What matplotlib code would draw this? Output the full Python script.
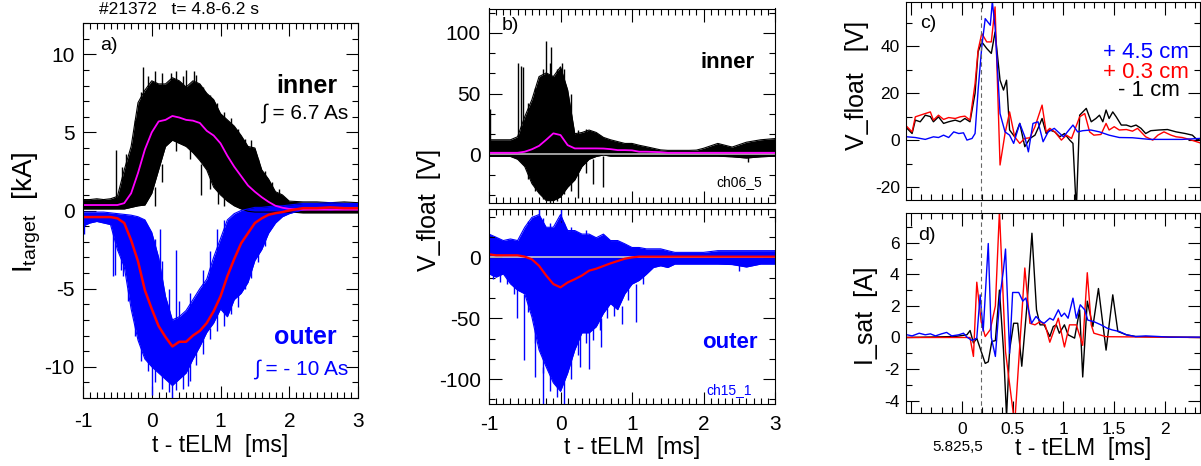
import numpy as np
import matplotlib.pyplot as plt
from matplotlib.ticker import MultipleLocator, FormatStrFormatter

plt.rcParams['font.family'] = ['Liberation Sans', 'DejaVu Sans']
plt.rcParams['mathtext.default'] = 'regular'
plt.rcParams['axes.unicode_minus'] = False

# common time base for the noisy signals (ms)
t_env = [-1.0, -0.9, -0.8, -0.7, -0.6, -0.5, -0.4, -0.3, -0.2, -0.1, 0.0, 0.1, 0.2, 0.3, 0.4, 0.5,
         0.6, 0.7, 0.8, 0.9, 1.0, 1.1, 1.2, 1.3, 1.4, 1.5, 1.6, 1.7, 1.8, 1.9, 2.0, 2.2, 2.4, 2.6, 2.8, 3.0]

# a) target current, inner (black band + magenta mean) and outer (blue band + red mean), kA
a_in_hi = [0.7, 0.7, 0.75, 0.7, 0.75, 0.9, 2.6, 4.1, 6.9, 7.7, 8.3, 8.1, 8.1, 8.5, 8.3, 7.9,
           8.3, 8.1, 7.5, 7.1, 6.2, 5.8, 5.4, 4.8, 4.1, 4.0, 2.6, 2.0, 1.2, 1.0, 0.6, 0.55, 0.55, 0.5, 0.55, 0.5]
a_in_lo = [0.1, 0.1, 0.1, 0.1, 0.1, 0.1, 0.1, 0.2, 0.3, 0.35, 1.1, 2.6, 4.1, 4.5, 4.3, 4.1,
           3.7, 3.2, 2.6, 1.5, 1.0, 0.6, 0.3, 0.1, -0.05, -0.1, -0.1, -0.1, -0.1, -0.1, -0.1, -0.15, -0.15, -0.15, -0.15, -0.15]
a_in_mean = [0.35, 0.35, 0.35, 0.35, 0.35, 0.35, 0.47, 1.1, 2.4, 3.9, 5.0, 5.7, 5.8, 6.05, 5.95, 5.8,
             5.75, 5.6, 5.1, 4.8, 4.3, 3.5, 2.8, 2.2, 1.6, 1.2, 0.85, 0.55, 0.3, 0.18, 0.1, 0.05, 0.05, 0.05, 0.05, 0.05]
a_out_hi = [-0.1, -0.1, -0.1, -0.1, -0.15, -0.2, -0.25, -0.3, -0.4, -0.6, -1.4, -3.0, -5.5, -7.0, -6.8, -6.4,
            -5.7, -5.0, -4.4, -3.0, -1.8, -0.6, -0.2, 0.0, 0.1, 0.2, 0.2, 0.25, 0.3, 0.3, 0.35, 0.45, 0.45, 0.5, 0.45, 0.45]
a_out_lo = [-1.0, -0.8, -0.7, -0.8, -0.9, -2.5, -3.6, -6.3, -8.3, -9.5, -10.0, -10.4, -10.8, -11.2, -10.8, -10.4,
            -9.5, -8.7, -7.8, -7.2, -6.3, -6.8, -5.7, -5.3, -4.6, -3.2, -2.5, -1.45, -0.8, -0.4, -0.2, 0.05, 0.1, 0.05, 0.1, 0.1]
a_out_mean = [-0.42, -0.42, -0.42, -0.42, -0.42, -0.5, -0.8, -1.9, -3.25, -5.1, -6.3, -7.4, -8.1, -8.7, -8.4, -8.4,
              -8.0, -7.7, -7.2, -6.45, -5.5, -4.2, -3.1, -2.1, -1.45, -0.8, -0.5, -0.27, -0.17, -0.1, 0.0, 0.15, 0.15, 0.2, 0.15, 0.15]
# single spikes and hairs of the noise: (t, from, to)
a_in_spikes = [(-0.52, 0.8, 3.9), (-0.43, 1.5, 2.8), (-0.37, 2.0, 3.6), (-0.13, 6.0, 9.2), (0.28, 7.0, 8.8),
               (0.5, 7.0, 9.0), (0.62, 7.5, 8.9), (0.05, 1.5, 0.3), (0.72, 3.0, 1.0), (0.97, 1.5, 0.4),
               (-0.25, 3, 5.8), (-0.15, 5, 7.6), (-0.05, 6, 8.6), (0.05, 7, 8.9), (0.15, 7, 8.8), (0.25, 7, 8.0),
               (0.35, 7, 8.9), (0.45, 7, 8.6), (0.55, 7, 8.0), (0.65, 7, 8.7), (0.75, 6.5, 7.9), (0.85, 6, 7.4),
               (0.95, 5, 6.9), (1.05, 4.5, 6.3), (1.15, 4, 5.9), (1.25, 3.5, 5.2), (1.35, 3, 4.6), (1.45, 2.5, 4.5),
               (1.55, 2, 3.3), (1.65, 1.5, 2.5), (1.75, 1.0, 1.8), (1.85, 0.8, 1.4),
               (0.15, 3, 1.8), (0.35, 4.6, 3.8), (0.55, 4.2, 3.3), (0.85, 2.5, 1.4), (1.05, 1.2, 0.3)]
a_out_spikes = [(-0.98, -0.8, -1.5), (-0.57, -0.9, -4.2), (-0.53, -1.5, -4.1), (-0.42, -3.0, -4.2),
                (0.0, -9.0, -11.8), (0.3, -10.0, -12.0), (0.52, -9.5, -11.2), (0.12, -4.0, -1.2), (0.35, -7.0, -2.5),
                (-0.45, -3, -3.8), (-0.35, -5, -5.8), (-0.25, -7, -8.0), (-0.15, -8.5, -9.6), (-0.05, -9.5, -10.3),
                (0.05, -10, -11.0), (0.15, -10, -11.4), (0.25, -10.5, -11.6), (0.35, -10.5, -11.5), (0.45, -10, -11.4),
                (0.55, -9.5, -10.9), (0.65, -9, -9.9), (0.75, -8, -9.2), (0.85, -7.5, -8.2), (0.95, -6.5, -7.7),
                (1.05, -6.0, -7.4), (1.15, -5.5, -6.6), (1.25, -5, -6.2), (1.35, -4.5, -5.0), (1.45, -3.5, -4.3),
                (1.55, -2.5, -3.3), (1.65, -1.5, -2.3),
                (0.05, -3, -1.8), (0.15, -5, -3.2), (0.25, -7, -5.0), (0.4, -7, -5.8), (0.55, -6.5, -5.3),
                (0.75, -5, -3.8), (0.85, -4, -2.6), (0.95, -3, -1.2), (1.05, -1.5, -0.6)]

# b) floating potential, V
b_in_hi = [12, 12, 12, 12, 14.5, 31, 45, 64, 67, 64, 72, 53, 17, 18, 20, 18,
           14, 12, 10.5, 9, 9, 7.5, 6.3, 5, 3.7, 3.3, 3.3, 3.3, 3.3, 3.5, 5, 9, 6, 10, 12, 13]
b_in_lo = [-1.7, -1.7, -1.7, -1.7, -4, -10, -24, -32, -38, -38, -35, -27, -21, -10, -4, -1.7,
           -0.5, -1.5, -1.5, -1.5, -1.5, -1.5, -1.5, -1.5, -1.5, -1.5, -1.5, -1.5, -1.5, -1.5, -1.5, -1.5, -2, -3, -2, -1.5]
b_in_mean = [1.3, 1.3, 1.3, 1.3, 1.3, 2.2, 4.2, 7, 12, 17.3, 15.9, 7.6, 4.9, 4.9, 4.9, 4.9,
             4.8, 4.3, 3.5, 3.5, 3.3, 2.2, 2.2, 2.0, 1.8, 1.3, 1.3, 1.3, 1.3, 1.3, 1.3, 1.3, 1.3, 1.3, 1.3, 1.3]
b_out_hi = [19, 16.4, 13.7, 15, 13.7, 24.6, 32.7, 35, 24.6, 24.6, 35, 21.9, 21.9, 19, 19, 16,
            19, 13.7, 13.7, 11, 8, 8, 6.9, 6.9, 6.9, 5.4, 4, 4, 4, 4, 4, 5.4, 5.4, 5.4, 5.4, 5.4]
b_out_lo = [-13.6, -16.3, -13.6, -21.8, -27, -30, -49, -76, -90, -103, -110, -95, -76, -62, -62, -57,
            -46, -38, -43, -30, -22, -19, -14, -8.4, -7, -8.4, -5.6, -5.6, -5.6, -5.6, -5.6, -5.6, -6, -8, -5.6, -5.6]
b_out_mean = [2.4, 1.6, 1.6, 1.6, 1.6, 0.5, -1.7, -7, -15, -22, -24.7, -20.7, -18, -15, -11, -9.4,
              -7.2, -5, -3.1, -1.2, -0.1, 0.5, 0.5, 0.5, 0.5, 0.5, 0.5, 0.5, 0.5, 0.5, 0.5, 0.5, 0.5, 0.5, 0.5, 0.5]
b_in_spikes = [(-0.98, 10, 37), (-0.59, 12, 75), (-0.55, 14, 73), (-0.52, 20, 72), (-0.2, 60, 93),
               (-0.13, 60, 88), (0.02, 60, 75), (0.24, -15, -36), (0.46, -4, -24), (0.59, -1, -27), (2.62, -2, -6),
               (-0.45, 20, 42), (-0.35, 35, 55), (-0.25, 50, 70), (-0.15, 55, 75), (-0.05, 55, 70), (0.05, 50, 70),
               (0.15, 30, 50), (0.25, 10, 20), (0.35, 10, 21), (0.45, 10, 19), (0.55, 8, 16),
               (-0.45, -10, -20), (-0.35, -20, -30), (-0.25, -30, -37), (-0.15, -30, -40), (-0.05, -30, -38),
               (0.05, -25, -33), (0.15, -20, -30), (0.35, -5, -15)]
b_out_spikes = [(-0.3, 30, 40), (0.0, 30, 40), (-0.61, -25, -50), (-0.51, -30, -84), (-0.36, -60, -98),
                (-0.24, -90, -120), (0.05, -100, -120), (0.27, -65, -90), (0.4, -60, -92), (0.56, -50, -74),
                (0.86, -40, -55), (1.05, -22, -53), (2.5, -6, -11),
                (-0.95, -10, -18), (-0.85, -10, -20), (-0.75, -15, -22), (-0.65, -20, -30), (-0.45, -35, -45),
                (-0.35, -55, -70), (-0.25, -75, -95), (-0.15, -90, -110), (-0.05, -100, -115), (0.15, -80, -100),
                (0.25, -65, -80), (0.35, -55, -70), (0.45, -50, -68), (0.55, -45, -60), (0.65, -35, -50),
                (0.75, -35, -48), (0.95, -20, -35), (1.15, -12, -22),
                (-0.45, 20, 30), (-0.25, 20, 32), (-0.15, 20, 28), (0.05, 20, 28), (0.15, 15, 25), (0.35, 12, 22)]

# c) V_float at three probe positions: (t, V)
c_blue = [(-0.54, 1.4), (-0.458, 1.1), (-0.36, 0.3), (-0.28, 1.4), (-0.23, 1.1), (-0.18, 2.1), (-0.13, 1.1),
          (-0.08, 3.5), (-0.03, 2.8), (0.016, 3.1), (0.05, 0.0), (0.1, 0.7), (0.13, 2.8), (0.16, 21.3),
          (0.196, 39.7), (0.23, 51.7), (0.28, 48.9), (0.3, 58.9), (0.327, 48.2), (0.376, 11.3), (0.425, 3.5),
          (0.47, 2.1), (0.51, -1.4), (0.57, 7.1), (0.62, 1.4), (0.655, -5.0), (0.7, 7.1), (0.75, 7.8),
          (0.8, -0.7), (0.85, 3.5), (0.91, 5.0), (1.0, 1.4), (1.094, 6.4), (1.14, 3.5), (1.19, 4.0),
          (1.27, 4.3), (1.355, 3.5), (1.45, 2.1), (1.55, 1.1), (1.68, 1.0), (1.85, 0.3), (2.0, 0.3),
          (2.17, 0.3), (2.34, 0.7)]
c_red = [(-0.54, 5.7), (-0.49, 3.5), (-0.458, 9.9), (-0.41, 10.6), (-0.36, 11.3), (-0.31, 12.0), (-0.28, 8.5),
         (-0.23, 10.6), (-0.18, 8.8), (-0.13, 9.6), (-0.065, 9.2), (-0.016, 9.9), (0.03, 10.2), (0.08, 8.5),
         (0.13, 24.0), (0.16, 38.3), (0.196, 45.4), (0.245, 41.8), (0.29, 41.8), (0.327, 56.7), (0.376, -10.6),
         (0.425, 2.8), (0.47, 12.0), (0.52, 1.4), (0.57, -1.4), (0.62, 0.7), (0.67, 1.0), (0.72, 5.7),
         (0.79, 14.9), (0.83, 3.5), (0.866, 5.0), (0.915, 3.5), (0.98, 0.0), (1.03, 2.1), (1.08, 0.7),
         (1.16, 9.9), (1.21, 11.3), (1.258, 3.5), (1.3, 2.1), (1.37, 2.4), (1.42, 7.1), (1.45, 4.3),
         (1.5, 5.7), (1.55, 4.3), (1.62, 4.5), (1.68, 3.8), (1.73, 5.0), (1.81, 1.4), (1.88, 0.0),
         (1.93, 2.1), (1.99, 3.5), (2.06, 2.1), (2.11, 1.4), (2.17, 1.1), (2.24, 0.3), (2.34, -1.1)]
c_black = [(-0.54, 5.0), (-0.49, 2.8), (-0.458, 8.5), (-0.41, 7.8), (-0.36, 10.6), (-0.31, 10.0), (-0.28, 7.8),
           (-0.23, 9.9), (-0.18, 7.1), (-0.13, 7.8), (-0.065, 8.5), (-0.016, 7.8), (0.03, 9.2), (0.08, 7.8),
           (0.13, 19.9), (0.16, 37.6), (0.196, 41.8), (0.245, 39.0), (0.29, 36.9), (0.327, 46.0), (0.376, 25.5),
           (0.41, 21.3), (0.44, 25.5), (0.47, 4.3), (0.52, 1.4), (0.57, 7.1), (0.62, -2.8), (0.67, 0.7),
           (0.72, 2.1), (0.75, 5.0), (0.79, 9.2), (0.83, 2.8), (0.866, 4.3), (0.915, 3.5), (0.964, 1.4),
           (1.01, 2.8), (1.062, 0.0), (1.094, -1.4), (1.127, -30.0), (1.16, 10.6), (1.225, 13.5), (1.274, 7.8),
           (1.32, 9.2), (1.355, 10.6), (1.388, 7.8), (1.42, 12.8), (1.45, 9.2), (1.486, 12.0), (1.52, 9.9),
           (1.57, 6.4), (1.62, 6.4), (1.666, 5.7), (1.715, 6.4), (1.764, 5.0), (1.81, 2.8), (1.86, 4.0),
           (1.94, 4.3), (2.025, 4.5), (2.11, 3.5), (2.2, 2.8), (2.27, 2.1), (2.32, 0.0), (2.34, 0.5)]

# d) I_sat at the same positions: (t, A)
d_blue = [(-0.54, 0.17), (-0.49, 0.1), (-0.42, 0.27), (-0.36, 0.17), (-0.31, 0.23), (-0.26, 0.1), (-0.2, 0.23),
          (-0.15, 0.32), (-0.1, 0.1), (-0.03, 0.17), (0.016, 0.27), (0.05, 0.02), (0.1, -0.19), (0.147, -0.04),
          (0.18, 2.7), (0.21, 0.4), (0.26, 5.95), (0.29, 0.0), (0.33, -1.2), (0.375, 2.6), (0.408, 4.2),
          (0.43, 5.6), (0.47, -1.0), (0.5, 2.85), (0.56, 2.85), (0.6, 2.3), (0.63, 2.5), (0.686, 0.9),
          (0.73, 1.33), (0.78, 1.0), (0.81, 0.9), (0.866, 1.22), (0.9, 1.1), (0.95, 1.75), (0.98, 1.33),
          (1.01, 1.54), (1.046, 1.22), (1.094, 2.49), (1.127, 1.22), (1.166, 2.07), (1.21, 1.75), (1.24, 1.1),
          (1.3, 1.0), (1.37, 0.8), (1.43, 0.59), (1.48, 0.48), (1.55, 0.38), (1.62, 0.17), (1.71, 0.06),
          (1.81, 0.1), (1.94, 0.06), (2.04, 0.02), (2.34, 0.02)]
d_red = [(-0.54, 0.0), (-0.3, 0.0), (0.08, 0.0), (0.114, -1.2), (0.147, 3.5), (0.19, 1.0), (0.23, 0.06),
         (0.28, 0.5), (0.33, 2.0), (0.37, 8.0), (0.43, -0.9), (0.52, -5.5), (0.62, 4.4), (0.67, 0.9),
         (0.72, 0.8), (0.77, 1.0), (0.82, 0.8), (0.866, -0.3), (0.95, 1.22), (1.01, -0.6), (1.06, 0.8),
         (1.127, 0.8), (1.19, -0.5), (1.235, 4.1), (1.274, 0.8), (1.3, 0.27), (1.42, 0.05), (2.34, 0.0)]
d_black = [(-0.54, 0.0), (-0.066, 0.06), (0.05, 0.17), (0.081, 0.44), (0.114, -0.35), (0.147, -0.05),
           (0.23, -1.64), (0.26, -1.54), (0.295, -0.25), (0.33, -0.2), (0.37, 3.0), (0.41, -0.8), (0.44, -5.0),
           (0.47, -0.8), (0.51, 0.9), (0.55, 0.9), (0.59, -1.82), (0.64, 1.95), (0.69, 6.6), (0.735, 1.75),
           (0.77, 0.8), (0.81, 0.8), (0.866, 0.06), (0.9, 0.69), (0.93, 0.8), (0.96, 0.27), (1.01, 0.8),
           (1.046, 0.17), (1.11, -0.04), (1.16, 1.75), (1.19, -2.5), (1.235, 2.3), (1.29, 0.69), (1.345, 3.1),
           (1.42, -0.8), (1.486, 2.7), (1.536, 0.38), (1.62, 0.17), (1.71, 0.06), (2.34, 0.0)]
t_dash = 0.19

W, H = 1201, 466
fig = plt.figure(figsize=(W / 100, H / 100), dpi=100)


def box(l, t, r, b):
    return [l / W, 1 - b / H, (r - l) / W, (b - t) / H]


def ftext(x, y, s, **kw):
    fig.text(x / W, 1 - y / H, s, **kw)


def style(ax, xpad, ypad, size):
    ax.tick_params(which='both', direction='in', top=True, right=True, width=0.8, labelsize=size)
    ax.tick_params(which='major', length=9)
    ax.tick_params(which='minor', length=4.5)
    ax.tick_params(axis='x', pad=xpad)
    ax.tick_params(axis='y', pad=ypad)
    for s in ax.spines.values():
        s.set_linewidth(0.8)


def band(ax, hi, lo, spikes, col):
    ax.fill_between(t_env, lo, hi, color=col, lw=0)
    ax.plot(t_env, hi, color=col, lw=0.8)
    ax.plot(t_env, lo, color=col, lw=0.8)
    for t, v0, v1 in spikes:
        ax.vlines(t, v0, v1, color=col, lw=1.0)


def unzip(pairs):
    return [p[0] for p in pairs], [p[1] for p in pairs]


# ---- a)
ax = fig.add_axes(box(83, 23, 358, 398))
band(ax, a_in_hi, a_in_lo, a_in_spikes, 'black')
band(ax, a_out_hi, a_out_lo, a_out_spikes, 'blue')
ax.plot(t_env, a_in_mean, color='magenta', lw=1.3)
ax.plot(t_env, a_out_mean, color='red', lw=1.8)
ax.set_xlim(-1, 3)
ax.set_ylim(-12, 12)
ax.xaxis.set_major_locator(MultipleLocator(1))
ax.xaxis.set_minor_locator(MultipleLocator(0.1))
ax.yaxis.set_major_locator(MultipleLocator(5))
ax.yaxis.set_minor_locator(MultipleLocator(1))
ax.xaxis.set_major_formatter(FormatStrFormatter('%g'))
ax.yaxis.set_major_formatter(FormatStrFormatter('%g'))
style(ax, 10, 6, 15)
ax.set_xlabel('t - tELM  [ms]', fontsize=16.5, labelpad=2)
ftext(27, 212, r'I$_{target}$  [kA]', fontsize=20, rotation=90, ha='center', va='center')
ftext(99, 10, '#21372   t= 4.8-6.2 s', fontsize=12.5, va='center')
ftext(100, 46, 'a)', fontsize=14, va='center')
ftext(337, 86, 'inner', fontsize=18, fontweight='bold', ha='right', va='center')
ftext(348, 113, '∫ = 6.7 As', fontsize=15, ha='right', va='center')
ftext(337, 337, 'outer', fontsize=18, fontweight='bold', color='blue', ha='right', va='center')
ftext(348, 369, '∫ = - 10 As', fontsize=15, color='blue', ha='right', va='center')

# ---- b)
axb1 = fig.add_axes(box(489, 8.5, 775, 203))
axb2 = fig.add_axes(box(489, 208.5, 775, 403.5))
band(axb1, b_in_hi, b_in_lo, b_in_spikes, 'black')
axb1.axhline(0, color='#bbbbbb', lw=1.2)
axb1.plot(t_env, b_in_mean, color='magenta', lw=1.3)
band(axb2, b_out_hi, b_out_lo, b_out_spikes, 'blue')
axb2.axhline(0, color='#cccccc', lw=1.2)
axb2.plot(t_env, b_out_mean, color='red', lw=1.6)
axb1.set_ylim(-40, 120)
axb2.set_ylim(-120, 40)
for a in (axb1, axb2):
    a.set_xlim(-1, 3)
    a.xaxis.set_major_locator(MultipleLocator(1))
    a.xaxis.set_minor_locator(MultipleLocator(0.1))
    a.yaxis.set_major_locator(MultipleLocator(50))
    a.yaxis.set_minor_locator(MultipleLocator(50 / 3))
    a.xaxis.set_major_formatter(FormatStrFormatter('%g'))
    a.yaxis.set_major_formatter(FormatStrFormatter('%g'))
    style(a, 8, 6, 15)
axb1.tick_params(labelbottom=False)
axb2.set_xlabel('t - tELM  [ms]', fontsize=16.5, labelpad=2)
ftext(429, 210, 'V_float  [V]', fontsize=18, rotation=90, ha='center', va='center')
ftext(502, 25, 'b)', fontsize=14, va='center')
ftext(755, 63, 'inner', fontsize=16, fontweight='bold', ha='right', va='center')
ftext(762, 182, 'ch06_5', fontsize=10, ha='right', va='center')
ftext(758, 342, 'outer', fontsize=16, fontweight='bold', color='blue', ha='right', va='center')
ftext(752, 390, 'ch15_1', fontsize=10, color='blue', ha='right', va='center')

# ---- c) and d)
axc = fig.add_axes(box(906, 1.5, 1199.5, 200))
axd = fig.add_axes(box(906, 213.5, 1199.5, 412.5))
for pairs, col in ((c_black, 'black'), (c_red, 'red'), (c_blue, 'blue')):
    t, v = unzip(pairs)
    axc.plot(t, v, color=col, lw=1.0)
for pairs, col in ((d_black, 'black'), (d_red, 'red'), (d_blue, 'blue')):
    t, v = unzip(pairs)
    axd.plot(t, v, color=col, lw=1.0)
axc.axvline(t_dash, ymin=-0.07, ymax=1, color='#666666', lw=0.8, ls=(0, (4, 3)), clip_on=False)
axd.axvline(t_dash, color='#666666', lw=0.8, ls=(0, (4, 3)))
axc.set_ylim(-25.5, 59)
axd.set_ylim(-4.75, 7.85)
for a in (axc, axd):
    a.set_xlim(-0.55, 2.34)
    a.set_xticks([-0.5, 0, 0.5, 1, 1.5, 2])
    a.set_xticklabels(['', '0', '0.5', '1', '1.5', '2'])
    a.xaxis.set_minor_locator(MultipleLocator(0.1))
    a.yaxis.set_major_formatter(FormatStrFormatter('%g'))
    style(a, 7, 4.5, 12.5)
axc.yaxis.set_major_locator(MultipleLocator(20))
axc.yaxis.set_minor_locator(MultipleLocator(10))
axd.yaxis.set_major_locator(MultipleLocator(2))
axd.yaxis.set_minor_locator(MultipleLocator(1))
axc.tick_params(labelbottom=False)
ftext(857, 85, 'V_float   [V]', fontsize=18, rotation=90, ha='center', va='center')
ftext(866, 316, 'I_sat  [A]', fontsize=18, rotation=90, ha='center', va='center')
ftext(920, 24, 'c)', fontsize=14, va='center')
ftext(918, 235, 'd)', fontsize=14, va='center')
ftext(1189, 53, '+ 4.5 cm', fontsize=16, color='blue', ha='right', va='center')
ftext(1189, 72, '+ 0.3 cm', fontsize=16, color='red', ha='right', va='center')
ftext(1180, 91, '- 1 cm', fontsize=16, color='black', ha='right', va='center')
ftext(932, 447, '5.825,5', fontsize=11, va='center')
ftext(1083, 448, 't - tELM  [ms]', fontsize=16.5, ha='center', va='center')

fig.savefig('out.png', dpi=100)
